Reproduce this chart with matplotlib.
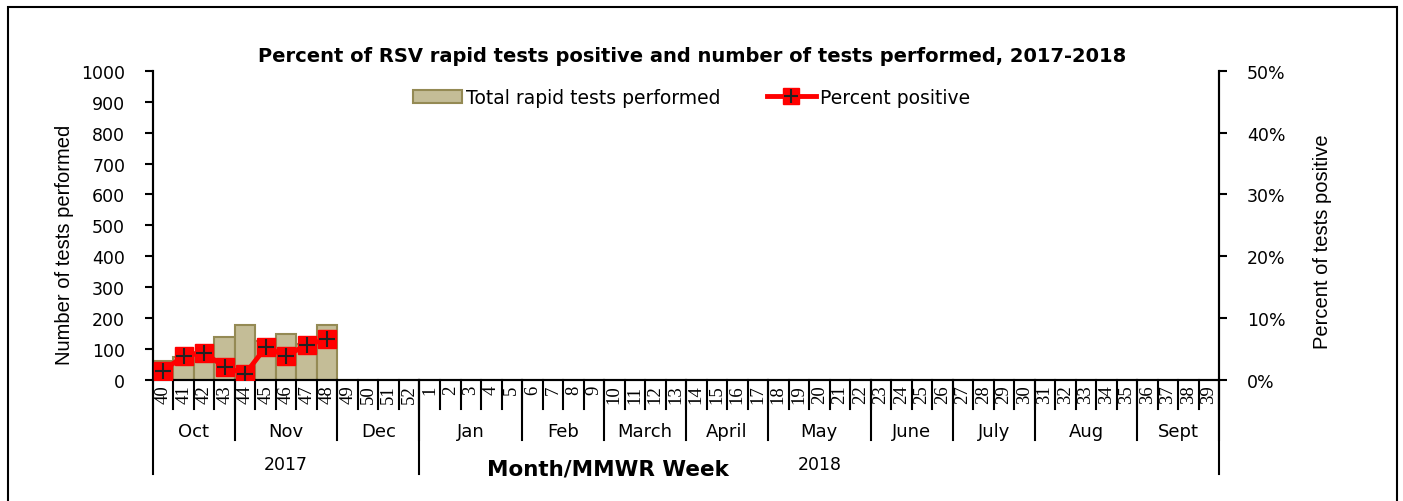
import matplotlib
matplotlib.use("Agg")
import matplotlib.pyplot as plt
from matplotlib.lines import Line2D
from matplotlib.patches import Patch, Rectangle
import numpy as np

# MMWR weeks Oct 2017 - Sept 2018
weeks = list(range(40, 53)) + list(range(1, 40))
months = ["Oct", "Nov", "Dec", "Jan", "Feb", "March", "April", "May",
          "June", "July", "Aug", "Sept"]
month_weeks = [4, 5, 4, 5, 4, 4, 4, 5, 4, 4, 5, 4]
years = ["2017", "2018"]
year_weeks = [13, 39]

# reported so far (weeks 40-48)
tests = [60, 75, 90, 140, 178, 126, 150, 115, 178]
pct_pos = [1.5, 3.9, 4.4, 2.1, 1.0, 5.3, 3.9, 5.7, 6.6]

plt.rcParams["font.family"] = "DejaVu Sans"

fig = plt.figure(figsize=(14.03, 5.02), dpi=100)
ax = fig.add_axes([0.109, 0.241, 0.76, 0.616])
ax2 = ax.twinx()

x = np.arange(len(weeks))
ax.bar(x[:len(tests)], tests, width=1.0, color="#C4BD97", edgecolor="#948A54",
       linewidth=1.5, zorder=2)
ax2.plot(x[:len(pct_pos)], pct_pos, color="red", lw=3.5, marker="s", ms=13,
         mfc="red", mec="red", zorder=3)
ax2.plot(x[:len(pct_pos)], pct_pos, ls="none", marker="+", ms=11, mew=1.5,
         color="#222222", zorder=4)

ax.set_xlim(-0.5, len(weeks) - 0.5)
ax.set_ylim(0, 1000)
ax.set_yticks(range(0, 1001, 100))
ax2.set_ylim(0, 50)
ax2.set_yticks(range(0, 51, 10))
ax2.set_yticklabels([f"{v}%" for v in range(0, 51, 10)])

for a in (ax, ax2):
    a.spines["top"].set_visible(False)
    a.spines["left"].set_linewidth(1.5)
    a.spines["right"].set_linewidth(1.5)
    a.spines["bottom"].set_linewidth(1.5)
ax.tick_params(axis="y", labelsize=12.5, length=6, width=1.5, pad=14)
ax2.tick_params(axis="y", labelsize=12.5, length=6, width=1.5, pad=14)
ax.set_xticks([])

fig.text(64 / 1403, 1 - 245 / 502, "Number of tests performed", rotation=90,
         ha="center", va="center", fontsize=14.5, family="Liberation Sans")
fig.text(1322 / 1403, 1 - 242 / 502, "Percent of tests positive", rotation=90,
         ha="center", va="center", fontsize=14.5, family="Liberation Sans")

# category axis drawn by hand: weeks, months, years
tr = ax.get_xaxis_transform()
for i in range(len(weeks) + 1):
    ax.plot([i - 0.5, i - 0.5], [0, -0.094], transform=tr, color="black",
            lw=1.5, clip_on=False)
for i, w in enumerate(weeks):
    ax.text(i, -0.015, str(w), transform=tr, rotation=90, ha="center", va="top",
            fontsize=13.5, family="Liberation Serif")

edge = 0
for m, n in zip(months, month_weeks):
    ax.text(edge + n / 2 - 0.5, -0.165, m, transform=tr, ha="center",
            va="center", fontsize=13)
    edge += n
    ax.plot([edge - 0.5, edge - 0.5], [0, -0.194], transform=tr, color="black",
            lw=1.5, clip_on=False)

edge = 0
ax.plot([-0.5, -0.5], [0, -0.304], transform=tr, color="black", lw=1.5, clip_on=False)
for y, n in zip(years, year_weeks):
    ax.text(edge + n / 2 - 0.5, -0.27, y, transform=tr, ha="center",
            va="center", fontsize=12.5)
    edge += n
    ax.plot([edge - 0.5, edge - 0.5], [0, -0.304], transform=tr, color="black",
            lw=1.5, clip_on=False)

fig.text(608 / 1403, 1 - 470 / 502, "Month/MMWR Week", ha="center", va="center",
         fontsize=15.5, fontweight="bold")
fig.text(692 / 1403, 1 - 57 / 502,
         "Percent of RSV rapid tests positive and number of tests performed, 2017-2018",
         ha="center", va="center", fontsize=14, fontweight="bold")

handles = [Patch(facecolor="#C4BD97", edgecolor="#948A54", linewidth=1.5),
           (Line2D([], [], color="red", lw=3.5, marker="s", ms=12, mfc="red", mec="red"),
            Line2D([], [], ls="none", marker="+", ms=10, mew=1.5, color="#222222"))]
ax2.legend(handles, ["Total rapid tests performed", "Percent positive"],
           loc="upper center", bbox_to_anchor=(0.505, 1.0), ncol=2, frameon=False,
           fontsize=13.5, handlelength=2.6, columnspacing=2.5, handletextpad=0.2)

fig.add_artist(Rectangle((8 / 1403, -0.05), 1389 / 1403, 1.05 - 8 / 502,
                         transform=fig.transFigure, fill=False, lw=1.5,
                         edgecolor="black"))

fig.savefig("out.png", dpi=100)
